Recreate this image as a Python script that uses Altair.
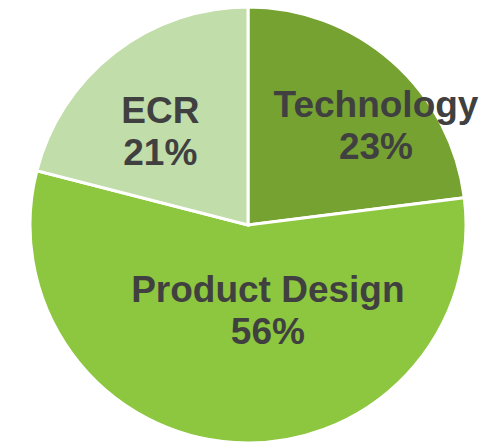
import altair as alt
import pandas as pd

categories = ["Technology", "Product Design", "ECR"]
shares = [23, 56, 21]
colors = ["#76A232", "#8DC63F", "#C1DDA9"]
order_idx = [0, 1, 2]

df = pd.DataFrame({"category": categories, "share": shares, "idx": order_idx})

base = alt.Chart(df)
theta_scale = alt.Scale(domain=[0, 100])

arc = base.mark_arc(outerRadius=218, stroke="white", strokeWidth=3).encode(
    theta=alt.Theta("share:Q", stack=True, scale=theta_scale),
    color=alt.Color("category:N", scale=alt.Scale(domain=categories, range=colors), legend=None),
    order=alt.Order("idx:Q"),
)


def label(cat, radius, dx, dy):
    return (
        base.transform_window(cum="sum(share)", sort=[alt.SortField("idx")])
        .transform_calculate(mid="datum.cum - datum.share / 2",
                             lbl="[datum.category, datum.share + '%']")
        .transform_filter(alt.datum.category == cat)
        .mark_text(radius=radius, dx=dx, dy=dy, font="Liberation Sans", fontSize=37,
                   fontWeight="bold", color="#404040", align="center",
                   baseline="alphabetic", lineHeight=42)
        .encode(theta=alt.Theta("mid:Q", stack=None, scale=theta_scale), text="lbl:N")
    )


chart = alt.layer(
    arc,
    label("Technology", 130, 42, -10),
    label("Product Design", 130, 28, -53),
    label("ECR", 130, -8, 1),
).properties(
    width=480, height=434,
    padding=0,
    autosize=alt.AutoSizeParams(type="none"),
    background="white",
).configure_view(stroke=None)

chart.save("out.html", embed_options={"renderer": "svg", "actions": False})
